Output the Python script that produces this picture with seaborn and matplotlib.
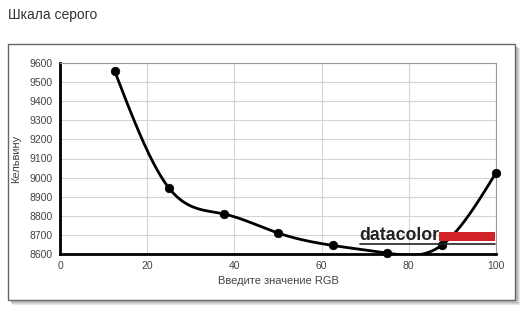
import numpy as np
import pandas as pd
import matplotlib
matplotlib.use("Agg")
import matplotlib.pyplot as plt
import seaborn as sns
from matplotlib.patches import Rectangle
from matplotlib.lines import Line2D

# ---- data ----
rgb_values = [12.5, 25, 37.5, 50, 62.5, 75, 87.5, 100]
kelvin_values = [9560, 8945, 8810, 8710, 8645, 8605, 8645, 9025]
x_ticks = [0, 20, 40, 60, 80, 100]
y_ticks = [8600, 8700, 8800, 8900, 9000, 9100, 9200, 9300, 9400, 9500, 9600]
title_text = "Шкала серого"
x_label = "Введите значение RGB"
y_label = "Кельвину"

df = pd.DataFrame({"rgb": rgb_values, "kelvin": kelvin_values})


def natural_spline(x, y, n=400):
    x = np.asarray(x, float)
    y = np.asarray(y, float)
    m = len(x)
    h = np.diff(x)
    A = np.zeros((m, m))
    b = np.zeros(m)
    A[0, 0] = 1
    A[-1, -1] = 1
    for i in range(1, m - 1):
        A[i, i - 1] = h[i - 1]
        A[i, i] = 2 * (h[i - 1] + h[i])
        A[i, i + 1] = h[i]
        b[i] = 3 * ((y[i + 1] - y[i]) / h[i] - (y[i] - y[i - 1]) / h[i - 1])
    c = np.linalg.solve(A, b)
    xs = np.linspace(x[0], x[-1], n)
    ys = np.empty_like(xs)
    for k, xv in enumerate(xs):
        i = min(np.searchsorted(x, xv, side="right") - 1, m - 2)
        dx = xv - x[i]
        bi = (y[i + 1] - y[i]) / h[i] - h[i] * (2 * c[i] + c[i + 1]) / 3
        di = (c[i + 1] - c[i]) / (3 * h[i])
        ys[k] = y[i] + bi * dx + c[i] * dx ** 2 + di * dx ** 3
    return xs, ys


sns.set_style("white")
plt.rcParams["font.family"] = ["Liberation Sans", "DejaVu Sans"]

fig = plt.figure(figsize=(5.32, 3.15), dpi=100)
fig.patch.set_facecolor("white")

W, H = 532, 315

# outer frame with shadow
for off, col in [(5, "#e6e6e6"), (4, "#d2d2d2"), (3, "#bdbdbd")]:
    fig.patches.append(Rectangle(((8 + off) / W, 1 - (300 + off) / H), 507 / W, 256 / H,
                                 transform=fig.transFigure, facecolor=col,
                                 edgecolor="none", zorder=0))
fig.patches.append(Rectangle((8 / W, 1 - 300 / H), 507 / W, 256 / H,
                             transform=fig.transFigure, facecolor="white",
                             edgecolor="#666666", linewidth=1.0, zorder=1))

fig.text(8 / W, 1 - 15 / H, title_text, fontsize=10, color="#333333",
         va="center", ha="left")

ax = fig.add_axes([60 / W, 1 - 254 / H, (496 - 60) / W, (254 - 63) / H])
ax.set_zorder(2)
ax.set_facecolor("white")

xs, ys = natural_spline(rgb_values, kelvin_values)
sns.lineplot(x=xs, y=ys, ax=ax, color="black", linewidth=2.0, zorder=3)
sns.scatterplot(data=df, x="rgb", y="kelvin", ax=ax, color="black", s=38,
                edgecolor="black", zorder=4, clip_on=False)

ax.set_xlim(0, 100)
ax.set_ylim(8600, 9600)
ax.set_xticks(x_ticks)
ax.set_yticks(y_ticks)
ax.grid(True, color="#d4d4d4", linewidth=0.8)
ax.set_axisbelow(True)
for s in ["top", "right"]:
    ax.spines[s].set_color("#9a9a9a")
    ax.spines[s].set_linewidth(0.8)
for s in ["left", "bottom"]:
    ax.spines[s].set_color("black")
    ax.spines[s].set_linewidth(2.0)
ax.tick_params(axis="both", labelsize=7.5, colors="#444444", length=3,
               width=0.8, pad=2)
ax.set_xlabel(x_label, fontsize=8, color="#444444", labelpad=4)
ax.set_ylabel(y_label, fontsize=8, color="#444444", labelpad=6)

# datacolor logo
fig.text(359 / W, 1 - 236 / H, "datacolor", fontsize=12.8, fontweight="heavy",
         color="#222222", va="center", ha="left", zorder=6)
fig.patches.append(Rectangle((439 / W, 1 - 241 / H), 56 / W, 9 / H,
                             transform=fig.transFigure, facecolor="#d2232a",
                             edgecolor="none", zorder=6))
fig.lines.append(Line2D([360 / W, 495 / W], [1 - 243.5 / H, 1 - 243.5 / H],
                        transform=fig.transFigure, color="#222222",
                        linewidth=1.2, zorder=6))

fig.savefig("out.png", dpi=100, facecolor="white")
